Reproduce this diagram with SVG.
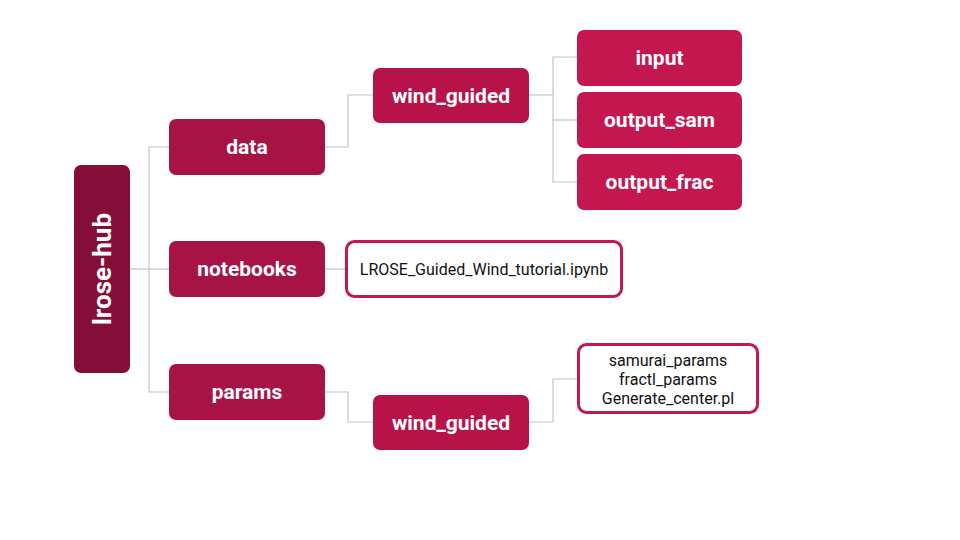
<svg xmlns="http://www.w3.org/2000/svg" width="960" height="540" viewBox="0 0 960 540">
<style>
.lbl{font-family:Roboto,"Liberation Sans",sans-serif;font-weight:bold;font-size:21px;fill:#fff;text-anchor:middle;dominant-baseline:central}
.sm{font-family:Roboto,"Liberation Sans",sans-serif;font-size:16px;fill:#111;text-anchor:middle;dominant-baseline:central}
.c{fill:none;stroke:#c4c4c4;stroke-width:1.2}
.l1{fill:#a81346}
.l2{fill:#b71349}
.l3{fill:#c4164f}
.file{fill:#fff;stroke:#c4164f;stroke-width:3}
</style>
<rect width="960" height="540" fill="#fff"/>
<g id="connectors">
<polyline class="c" points="130,269 149,269"/>
<polyline class="c" points="169,147 149,147 149,392 169,392"/>
<polyline class="c" points="149,269 169,269"/>
<polyline class="c" points="325,147 348,147 348,95 373,95"/>
<polyline class="c" points="529,95 553,95"/>
<polyline class="c" points="577,57 553,57 553,182 577,182"/>
<polyline class="c" points="553,120 577,120"/>
<polyline class="c" points="325,269 346,269"/>
<polyline class="c" points="325,392 348,392 348,422 373,422"/>
<polyline class="c" points="529,422 553,422 553,379 578,379"/>
</g>
<g id="lrose-hub">
<rect x="74" y="165" width="56" height="208" rx="7" fill="#850e39"/>
<text class="lbl" style="font-size:26px" transform="translate(102,269) rotate(-90)">lrose-hub</text>
</g>
<g id="data">
<rect class="l1" x="169" y="119" width="156" height="56" rx="7"/>
<text class="lbl" x="247" y="147">data</text>
</g>
<g id="notebooks">
<rect class="l1" x="169" y="241" width="156" height="56" rx="7"/>
<text class="lbl" x="247" y="269">notebooks</text>
</g>
<g id="params">
<rect class="l1" x="169" y="364" width="156" height="56" rx="7"/>
<text class="lbl" x="247" y="392">params</text>
</g>
<g id="wind_guided_data">
<rect class="l2" x="373" y="68" width="156" height="55" rx="7"/>
<text class="lbl" x="451" y="96">wind_guided</text>
</g>
<g id="input">
<rect class="l3" x="577" y="30" width="165" height="56" rx="7"/>
<text class="lbl" x="659.500" y="58">input</text>
</g>
<g id="output_sam">
<rect class="l3" x="577" y="92" width="165" height="56" rx="7"/>
<text class="lbl" x="659.500" y="120">output_sam</text>
</g>
<g id="output_frac">
<rect class="l3" x="577" y="154" width="165" height="56" rx="7"/>
<text class="lbl" x="659.500" y="182">output_frac</text>
</g>
<g id="notebook_file">
<rect class="file" x="346.500" y="241.500" width="275" height="55" rx="8"/>
<text class="sm" x="484" y="269">LROSE_Guided_Wind_tutorial.ipynb</text>
</g>
<g id="wind_guided_params">
<rect class="l2" x="373" y="395" width="156" height="55" rx="7"/>
<text class="lbl" x="451" y="423">wind_guided</text>
</g>
<g id="params_files">
<rect class="file" x="578.500" y="344.500" width="179" height="68" rx="8"/>
<text class="sm" x="668" y="360">samurai_params</text>
<text class="sm" x="668" y="379">fractl_params</text>
<text class="sm" x="668" y="398">Generate_center.pl</text>
</g>
</svg>
